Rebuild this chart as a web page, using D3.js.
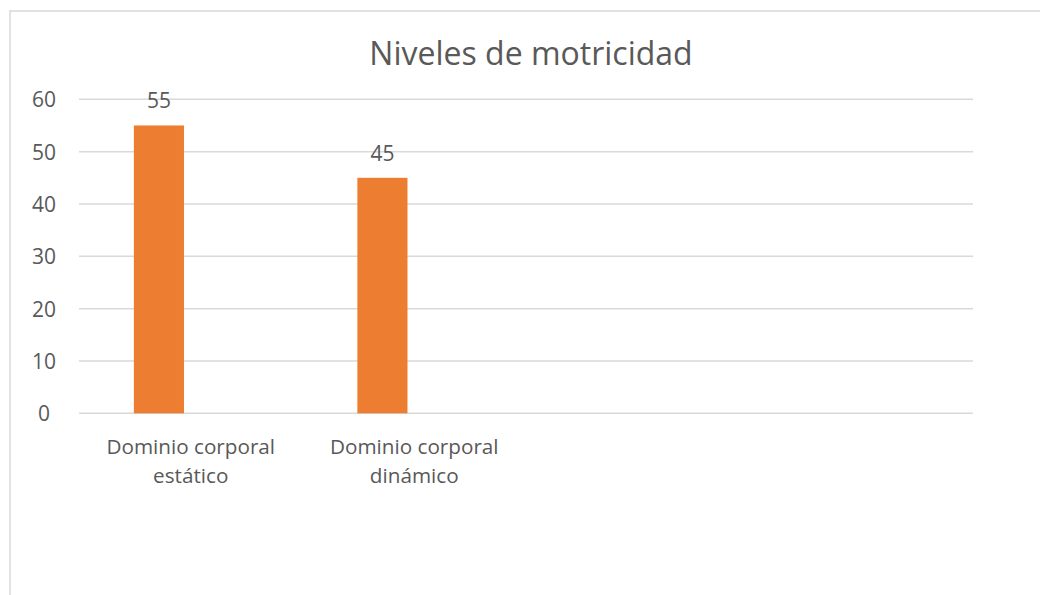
<!DOCTYPE html>
<html>
<head>
<meta charset="utf-8">
<script src="https://cdn.jsdelivr.net/npm/d3@7"></script>
<style>
  body { margin: 0; background: #fff; }
  svg text { font-family: "Open Sans", "Noto Sans", sans-serif; fill: #595959; }
</style>
</head>
<body>
<svg id="chart" width="1040" height="595"></svg>
<script>
// data
const title = "Niveles de motricidad";
const categories = [["Dominio corporal", "estático"], ["Dominio corporal", "dinámico"], [""], [" "]];
const seriesNames = ["Serie 1", "Serie 2"];
const serie1 = [55, 45, null, null];
const serie2 = [null, null, null, null];
const yTicks = [0, 10, 20, 30, 40, 50, 60];

const svg = d3.select('#chart');
const catKeys = categories.map(c => c.join(' '));

// chart border (runs off the right and bottom edges)
svg.append('rect')
    .attr('x', 10).attr('y', 11)
    .attr('width', 1060).attr('height', 620)
    .attr('fill', 'none')
    .attr('stroke', '#d9d9d9')
    .attr('stroke-width', 1.5);

const plot = {left: 79, right: 973, top: 99.3, bottom: 413.3};

const x0 = d3.scaleBand().domain(catKeys).range([plot.left, plot.right]);
// excel default: gap width 219%, overlap -27%
const x1 = d3.scaleBand().domain(seriesNames)
    .range([0, x0.bandwidth()])
    .paddingInner(0.27 / 1.27)
    .paddingOuter(1.095 / 1.27);
const y = d3.scaleLinear().domain([0, 60]).range([plot.bottom, plot.top]);

// gridlines
svg.append('g').selectAll('line')
    .data(yTicks)
    .join('line')
    .attr('x1', plot.left).attr('x2', plot.right)
    .attr('y1', d => y(d)).attr('y2', d => y(d))
    .attr('stroke', '#d9d9d9')
    .attr('stroke-width', 1.5);

// y tick labels
svg.append('g').selectAll('text')
    .data(yTicks)
    .join('text')
    .attr('x', 44)
    .attr('y', d => y(d))
    .attr('text-anchor', 'middle')
    .attr('dominant-baseline', 'central')
    .style('font-size', '21px')
    .text(d => d);

// bars
const rows = catKeys.map((k, i) => ({key: k, values: [serie1[i], serie2[i]]}));
const groups = svg.append('g').selectAll('g')
    .data(rows)
    .join('g')
    .attr('transform', d => `translate(${x0(d.key)},0)`);

const cells = groups.selectAll('g')
    .data(d => d.values.map((v, j) => ({s: seriesNames[j], v: v})).filter(e => e.v != null))
    .join('g');

cells.append('rect')
    .attr('x', d => x1(d.s))
    .attr('width', x1.bandwidth())
    .attr('y', d => y(d.v))
    .attr('height', d => y(0) - y(d.v))
    .attr('fill', '#ed7d31');

cells.append('text')
    .attr('x', d => x1(d.s) + x1.bandwidth() / 2)
    .attr('y', d => y(d.v) - 25)
    .attr('text-anchor', 'middle')
    .attr('dominant-baseline', 'central')
    .style('font-size', '21px')
    .text(d => d.v);

// category labels
const catText = svg.append('g').selectAll('text')
    .data(categories)
    .join('text')
    .attr('text-anchor', 'middle')
    .style('font-size', '20.7px');
catText.selectAll('tspan')
    .data((d, i) => d.map(line => ({line: line, key: catKeys[i]})))
    .join('tspan')
    .attr('x', d => x0(d.key) + x0.bandwidth() / 2)
    .attr('y', (d, i) => 454 + i * 29)
    .text(d => d.line);

// title
svg.append('text')
    .attr('x', 531)
    .attr('y', 65)
    .attr('text-anchor', 'middle')
    .style('font-size', '32px')
    .text(title);
</script>
</body>
</html>
